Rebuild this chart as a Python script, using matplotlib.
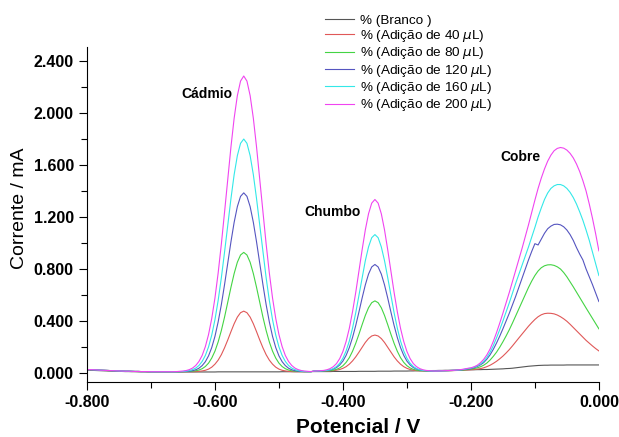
import numpy as np
import matplotlib
matplotlib.use("Agg")
import matplotlib.pyplot as plt
from matplotlib.ticker import MultipleLocator, FormatStrFormatter

plt.rcParams['font.family'] = ['Liberation Sans', 'DejaVu Sans']
plt.rcParams['mathtext.fontset'] = 'dejavusans'

# potential grid (V): one reading every 5 mV from -0.800 to 0.000
potencial = np.round(np.linspace(-0.80, 0.00, 161), 3)

# currents (mA), split by region of the scan
# region 1: -0.800 .. -0.665 (flat start, same for all additions)
inicio = [0.026, 0.026, 0.025, 0.024, 0.022, 0.021, 0.020, 0.019, 0.018, 0.017,
          0.016, 0.015, 0.014, 0.014, 0.013, 0.012, 0.012, 0.011, 0.011, 0.011,
          0.010, 0.010, 0.010, 0.010, 0.010, 0.010, 0.010, 0.010]

# region 2: -0.660 .. -0.450 (cadmium peak)
cd_40 = [0.010, 0.010, 0.010, 0.010, 0.010, 0.010, 0.011, 0.013, 0.016, 0.021,
         0.030, 0.045, 0.068, 0.099, 0.141, 0.194, 0.254, 0.318, 0.379, 0.430,
         0.464, 0.476, 0.464, 0.430, 0.379, 0.318, 0.254, 0.194, 0.141, 0.099,
         0.068, 0.045, 0.030, 0.021, 0.016, 0.013, 0.011, 0.010, 0.010, 0.010,
         0.010, 0.010, 0.010]
cd_80 = [0.010, 0.010, 0.010, 0.011, 0.012, 0.014, 0.017, 0.023, 0.033, 0.050,
         0.076, 0.115, 0.168, 0.239, 0.327, 0.430, 0.544, 0.659, 0.765, 0.852,
         0.908, 0.928, 0.908, 0.852, 0.765, 0.659, 0.544, 0.430, 0.327, 0.239,
         0.168, 0.115, 0.076, 0.050, 0.033, 0.023, 0.017, 0.014, 0.012, 0.011,
         0.010, 0.010, 0.010]
cd_120 = [0.010, 0.010, 0.011, 0.012, 0.014, 0.018, 0.025, 0.037, 0.057, 0.087,
          0.132, 0.196, 0.282, 0.393, 0.526, 0.680, 0.845, 1.009, 1.159, 1.280,
          1.359, 1.386, 1.359, 1.280, 1.159, 1.009, 0.845, 0.680, 0.526, 0.393,
          0.282, 0.196, 0.132, 0.087, 0.057, 0.037, 0.025, 0.018, 0.014, 0.012,
          0.011, 0.010, 0.010]
cd_160 = [0.010, 0.011, 0.012, 0.014, 0.019, 0.026, 0.038, 0.058, 0.089, 0.135,
          0.201, 0.292, 0.410, 0.558, 0.733, 0.930, 1.137, 1.341, 1.526, 1.672,
          1.767, 1.800, 1.767, 1.672, 1.526, 1.341, 1.137, 0.930, 0.733, 0.558,
          0.410, 0.292, 0.201, 0.135, 0.089, 0.058, 0.038, 0.026, 0.019, 0.014,
          0.012, 0.011, 0.010]
cd_200 = [0.011, 0.013, 0.015, 0.019, 0.026, 0.038, 0.058, 0.089, 0.135, 0.203,
          0.296, 0.420, 0.577, 0.769, 0.992, 1.237, 1.492, 1.739, 1.960, 2.134,
          2.246, 2.285, 2.246, 2.134, 1.960, 1.739, 1.492, 1.237, 0.992, 0.769,
          0.577, 0.420, 0.296, 0.203, 0.135, 0.089, 0.058, 0.038, 0.026, 0.019,
          0.015, 0.013, 0.011]

# region 3: -0.445 .. -0.255 (lead peak)
pb_40 = [0.015, 0.015, 0.015, 0.015, 0.016, 0.017, 0.018, 0.022, 0.027, 0.036,
         0.049, 0.068, 0.093, 0.124, 0.160, 0.198, 0.235, 0.265, 0.285, 0.292,
         0.285, 0.265, 0.235, 0.198, 0.160, 0.124, 0.093, 0.068, 0.049, 0.036,
         0.027, 0.022, 0.018, 0.017, 0.016, 0.015, 0.015, 0.015, 0.015]
pb_80 = [0.015, 0.015, 0.015, 0.016, 0.017, 0.018, 0.022, 0.028, 0.039, 0.056,
         0.082, 0.118, 0.167, 0.228, 0.298, 0.372, 0.443, 0.502, 0.541, 0.555,
         0.541, 0.502, 0.443, 0.372, 0.298, 0.228, 0.167, 0.118, 0.082, 0.056,
         0.039, 0.028, 0.022, 0.018, 0.017, 0.016, 0.015, 0.015, 0.015]
pb_120 = [0.015, 0.015, 0.016, 0.017, 0.019, 0.023, 0.030, 0.042, 0.062, 0.092,
          0.136, 0.196, 0.273, 0.365, 0.469, 0.577, 0.678, 0.761, 0.816, 0.835,
          0.816, 0.761, 0.678, 0.577, 0.469, 0.365, 0.273, 0.196, 0.136, 0.092,
          0.062, 0.042, 0.030, 0.023, 0.019, 0.017, 0.016, 0.015, 0.015]
pb_160 = [0.015, 0.016, 0.016, 0.018, 0.020, 0.025, 0.034, 0.050, 0.075, 0.114,
          0.170, 0.246, 0.345, 0.463, 0.597, 0.734, 0.864, 0.970, 1.041, 1.065,
          1.041, 0.970, 0.864, 0.734, 0.597, 0.463, 0.345, 0.246, 0.170, 0.114,
          0.075, 0.050, 0.034, 0.025, 0.020, 0.018, 0.016, 0.016, 0.015]
pb_200 = [0.015, 0.016, 0.018, 0.020, 0.025, 0.034, 0.049, 0.073, 0.111, 0.166,
          0.243, 0.344, 0.471, 0.619, 0.782, 0.948, 1.101, 1.225, 1.307, 1.335,
          1.307, 1.225, 1.101, 0.948, 0.782, 0.619, 0.471, 0.344, 0.243, 0.166,
          0.111, 0.073, 0.049, 0.034, 0.025, 0.020, 0.018, 0.016, 0.015]

# region 4: -0.250 .. -0.205 (valley)
vale_40 = [0.016, 0.017, 0.017, 0.018, 0.018, 0.019, 0.020, 0.021, 0.022, 0.024]
vale_80 = [0.016, 0.017, 0.017, 0.018, 0.019, 0.020, 0.021, 0.022, 0.024, 0.027]
vale_120 = [0.016, 0.017, 0.018, 0.018, 0.019, 0.020, 0.022, 0.024, 0.027, 0.031]
vale_160 = [0.016, 0.017, 0.018, 0.019, 0.020, 0.021, 0.023, 0.025, 0.029, 0.034]
vale_200 = [0.016, 0.017, 0.018, 0.019, 0.020, 0.022, 0.024, 0.027, 0.031, 0.036]

# region 5: -0.200 .. 0.000 (copper peak)
cu_40 = [0.025, 0.027, 0.030, 0.034, 0.040, 0.049, 0.060, 0.074, 0.090, 0.109,
         0.130, 0.154, 0.180, 0.209, 0.240, 0.270, 0.300, 0.330, 0.360, 0.387,
         0.412, 0.433, 0.448, 0.457, 0.460, 0.459, 0.455, 0.446, 0.433, 0.417,
         0.398, 0.375, 0.350, 0.325, 0.300, 0.275, 0.251, 0.229, 0.208, 0.188,
         0.170]
cu_80 = [0.030, 0.034, 0.040, 0.048, 0.060, 0.077, 0.100, 0.128, 0.160, 0.198,
         0.240, 0.285, 0.333, 0.385, 0.440, 0.495, 0.550, 0.605, 0.658, 0.707,
         0.750, 0.785, 0.810, 0.825, 0.832, 0.833, 0.828, 0.817, 0.800, 0.773,
         0.740, 0.702, 0.663, 0.622, 0.581, 0.540, 0.500, 0.460, 0.420, 0.380,
         0.340]
cu_120 = [0.034, 0.041, 0.050, 0.063, 0.080, 0.107, 0.140, 0.182, 0.230, 0.283,
          0.340, 0.400, 0.460, 0.525, 0.590, 0.660, 0.730, 0.800, 0.870, 0.935,
          0.995, 0.985, 1.030, 1.075, 1.110, 1.130, 1.143, 1.145, 1.140, 1.125,
          1.100, 1.065, 1.020, 0.965, 0.915, 0.870, 0.800, 0.740, 0.680, 0.615,
          0.550]
cu_160 = [0.038, 0.045, 0.055, 0.070, 0.090, 0.120, 0.160, 0.210, 0.270, 0.333,
          0.400, 0.470, 0.540, 0.615, 0.690, 0.760, 0.830, 0.900, 0.970, 1.045,
          1.120, 1.200, 1.270, 1.335, 1.385, 1.420, 1.440, 1.450, 1.450, 1.440,
          1.420, 1.390, 1.350, 1.300, 1.240, 1.175, 1.100, 1.020, 0.930, 0.840,
          0.750]
cu_200 = [0.040, 0.048, 0.060, 0.079, 0.105, 0.140, 0.185, 0.243, 0.310, 0.383,
          0.460, 0.540, 0.620, 0.705, 0.790, 0.875, 0.960, 1.050, 1.140, 1.235,
          1.330, 1.420, 1.500, 1.570, 1.630, 1.676, 1.710, 1.728, 1.735, 1.730,
          1.715, 1.690, 1.655, 1.608, 1.550, 1.480, 1.400, 1.300, 1.190, 1.070,
          0.940]

branco = ([0.022, 0.021, 0.020, 0.019, 0.018, 0.017, 0.016, 0.015, 0.014, 0.013,
           0.013, 0.012, 0.011, 0.011, 0.010, 0.010, 0.009, 0.009, 0.009, 0.008,
           0.008]
          + [0.008] * 20 + [0.009] * 20
          + [0.010] * 8 + [0.011] * 8 + [0.012] * 8 + [0.013] * 6 + [0.014] * 5
          + [0.015] * 5
          + [0.016, 0.016, 0.017, 0.017, 0.017, 0.018, 0.018, 0.019, 0.019, 0.020,
             0.020, 0.021, 0.021, 0.022, 0.022, 0.023, 0.023, 0.024, 0.024, 0.025]
          + [0.025, 0.026, 0.026, 0.027, 0.027, 0.028, 0.029, 0.030, 0.031, 0.032,
             0.034, 0.035, 0.037, 0.040, 0.043, 0.046, 0.049, 0.052, 0.054, 0.056,
             0.058, 0.059, 0.060, 0.060, 0.061, 0.061, 0.061, 0.061, 0.061, 0.062,
             0.062, 0.062, 0.062, 0.062, 0.062, 0.062, 0.062, 0.062, 0.062, 0.062])

ad40 = inicio + cd_40 + pb_40 + vale_40 + cu_40
ad80 = inicio + cd_80 + pb_80 + vale_80 + cu_80
ad120 = inicio + cd_120 + pb_120 + vale_120 + cu_120
ad160 = inicio + cd_160 + pb_160 + vale_160 + cu_160
ad200 = inicio + cd_200 + pb_200 + vale_200 + cu_200

series = [branco, ad40, ad80, ad120, ad160, ad200]
nomes = ['% (Branco )', '% (Adição de 40 $\\mu$L)', '% (Adição de 80 $\\mu$L)',
         '% (Adição de 120 $\\mu$L)', '% (Adição de 160 $\\mu$L)',
         '% (Adição de 200 $\\mu$L)']
cores = ['#555555', '#E05858', '#44D444', '#5555C0', '#33E8E8', '#F044F0']

picos = ['Cádmio', 'Chumbo', 'Cobre']
picos_pos = [(-0.6125, 2.15), (-0.416, 1.235), (-0.122, 1.66)]

fig = plt.figure(figsize=(6.19, 4.37), dpi=100)
ax = fig.add_axes([0.1405, 0.1265, 0.827, 0.7665])

for y, nome, cor in zip(series, nomes, cores):
    ax.plot(potencial, y, color=cor, lw=0.8, label=nome)

for txt, (px, py) in zip(picos, picos_pos):
    ax.text(px, py, txt, fontsize=10, fontweight='bold', ha='center', va='center')

ax.set_xlim(-0.8, 0.0)
ax.set_ylim(-0.067, 2.51)
ax.xaxis.set_major_locator(MultipleLocator(0.2))
ax.xaxis.set_minor_locator(MultipleLocator(0.1))
ax.yaxis.set_major_locator(MultipleLocator(0.4))
ax.yaxis.set_minor_locator(MultipleLocator(0.2))
ax.xaxis.set_major_formatter(FormatStrFormatter('%.3f'))
ax.yaxis.set_major_formatter(FormatStrFormatter('%.3f'))
ax.tick_params(which='major', direction='out', length=6, width=0.8,
               labelsize=11.5)
ax.tick_params(which='minor', direction='out', length=4, width=0.8)
for lab in ax.get_xticklabels() + ax.get_yticklabels():
    lab.set_fontweight('bold')

ax.spines['top'].set_visible(False)
ax.spines['right'].set_visible(False)
ax.spines['left'].set_linewidth(0.8)
ax.spines['bottom'].set_linewidth(0.8)

ax.set_xlabel('Potencial / V', fontsize=15, fontweight='bold', labelpad=6)
ax.set_ylabel('Corrente / mA', fontsize=14, labelpad=4)
# labels in the original sit a bit off the axis centre
ax.xaxis.label.set_x(0.53)
ax.yaxis.label.set_y(0.518)

fig.legend(loc='upper left', bbox_to_anchor=(0.505, 0.995), frameon=False,
           fontsize=9.7, handlelength=2.2, handletextpad=0.4, labelspacing=0.1)

fig.savefig('out.png', dpi=100)
